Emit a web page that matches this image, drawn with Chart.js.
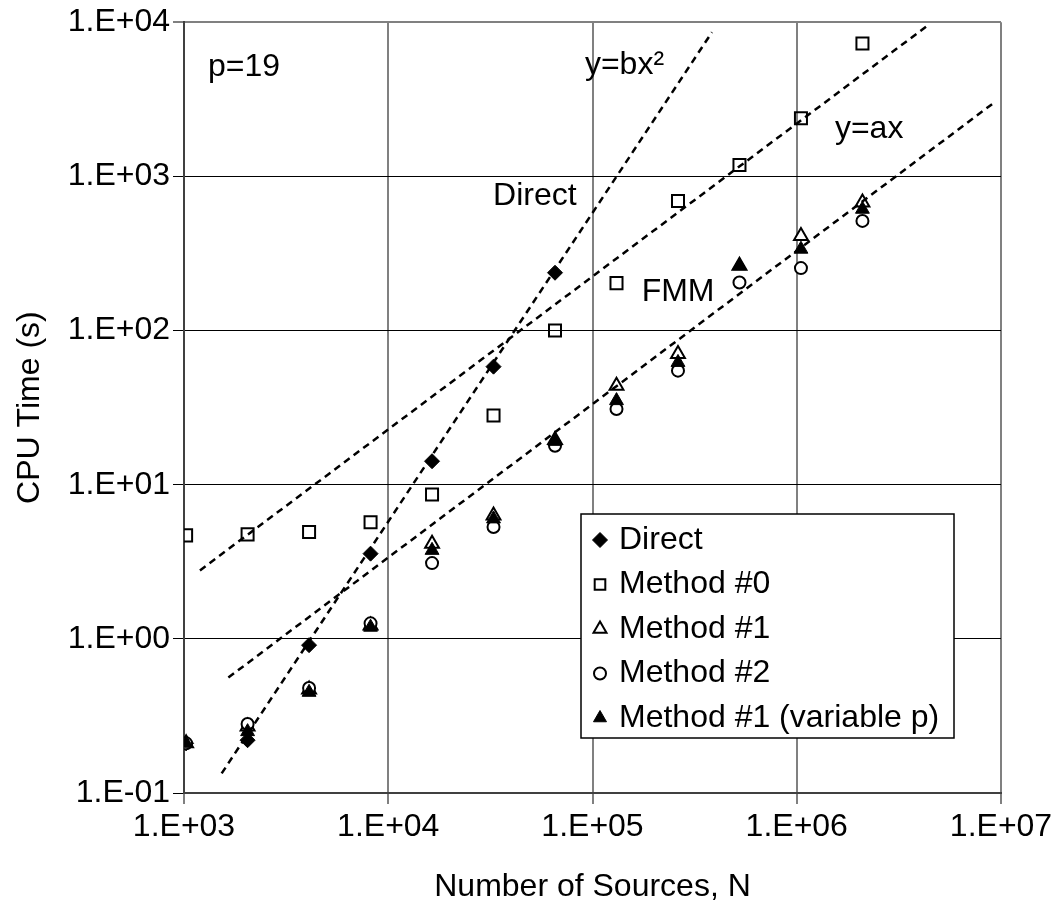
<!DOCTYPE html>
<html>
<head>
<meta charset="utf-8">
<script src="https://cdn.jsdelivr.net/npm/chart.js@4/dist/chart.umd.min.js"></script>
<style>
html,body{margin:0;padding:0;background:#fff;}
#wrap{width:1060px;height:911px;position:relative;}
</style>
</head>
<body>
<div id="wrap"><canvas id="c" width="1060" height="911"></canvas></div>
<script>
// ---------- data ----------
const N = [1024, 2048, 4096, 8192, 16384, 32768, 65536, 131072, 262144, 524288, 1048576, 2097152];
const directTime     = [0.21, 0.22, 0.91, 3.57, 14.2, 58.3, 237];
const method0Time    = [4.69, 4.76, 4.93, 5.71, 8.63, 28.1, 100, 203, 693, 1186, 2379, 7278];
const method1Time    = [0.21, 0.27, 0.47, 1.22, 4.14, 6.32, 19.5, 43.9, 70.4, 263, 411, 676];
const method2Time    = [0.21, 0.28, 0.48, 1.26, 3.10, 5.31, 17.9, 31.0, 54.9, 205, 254, 514];
const method1VarTime = [0.21, 0.25, 0.45, 1.19, 3.75, 6.0, 19.1, 35.1, 62.1, 263, 337, 612];

// fitted reference lines (end points)
const fitDirectX  = [1529, 384600];   const fitDirectY  = [0.134, 8610];
const fitMethod0X = [1197, 4330000];  const fitMethod0Y = [2.78, 9420];
const fitFmmX     = [1649, 9460000];  const fitFmmY     = [0.561, 3076];

// axis ticks
const xTickValues = [1e3, 1e4, 1e5, 1e6, 1e7];
const xTickLabels = ['1.E+03', '1.E+04', '1.E+05', '1.E+06', '1.E+07'];
const yTickValues = [0.1, 1, 10, 100, 1000, 10000];
const yTickLabels = ['1.E-01', '1.E+00', '1.E+01', '1.E+02', '1.E+03', '1.E+04'];

// text notes placed in data coordinates (left edge, baseline)
const noteTexts = ['p=19', 'y=bx\u00B2', 'Direct', 'FMM', 'y=ax'];
const noteX     = [1311, 91800, 32600, 174000, 1538000];
const noteY     = [4467, 4600, 653, 156, 1774];

// ---------- helpers ----------
const FONT_FAMILY = "'Liberation Sans', Arial, Helvetica, sans-serif";
const FONT_SIZE = 32;
const pts = (xs, ys) => ys.map((y, i) => ({x: xs[i], y: y}));

const markerDatasets = [
  {label: 'Direct', data: pts(N, directTime), pointStyle: 'rectRot', pointRadius: 7.5,
   backgroundColor: '#000', borderColor: '#000', borderWidth: 1, order: 5},
  {label: 'Method #0', data: pts(N, method0Time), pointStyle: 'rect', pointRadius: 8.5,
   backgroundColor: 'rgba(255,255,255,0)', borderColor: '#000', borderWidth: 2, order: 4},
  {label: 'Method #1', data: pts(N, method1Time), pointStyle: 'triangle', pointRadius: 8,
   backgroundColor: '#fff', borderColor: '#000', borderWidth: 2, order: 3},
  {label: 'Method #2', data: pts(N, method2Time), pointStyle: 'circle', pointRadius: 6,
   backgroundColor: '#fff', borderColor: '#000', borderWidth: 2, order: 2},
  {label: 'Method #1 (variable p)', data: pts(N, method1VarTime), pointStyle: 'triangle', pointRadius: 8,
   backgroundColor: '#000', borderColor: '#000', borderWidth: 1, order: 1}
];
markerDatasets.forEach(d => { d.showLine = false; d.pointHoverRadius = d.pointRadius; });

const fitLine = (label, xs, ys) => ({
  label: label, data: pts(xs, ys), showLine: true, fill: false,
  borderColor: '#000', borderWidth: 2.5, borderDash: [7, 5],
  pointRadius: 0, pointHoverRadius: 0, order: 0, isFit: true
});

const datasets = markerDatasets.concat([
  fitLine('fitDirect', fitDirectX, fitDirectY),
  fitLine('fitMethod0', fitMethod0X, fitMethod0Y),
  fitLine('fitFmm', fitFmmX, fitFmmY)
]);

// ---------- plugins ----------
const notesPlugin = {
  id: 'notes',
  afterDatasetsDraw(chart) {
    const ctx = chart.ctx, xs = chart.scales.x, ys = chart.scales.y;
    ctx.save();
    ctx.font = FONT_SIZE + 'px ' + FONT_FAMILY;
    ctx.fillStyle = '#000';
    ctx.textAlign = 'left';
    ctx.textBaseline = 'alphabetic';
    noteTexts.forEach((t, i) => {
      ctx.fillText(t, xs.getPixelForValue(noteX[i]), ys.getPixelForValue(noteY[i]));
    });
    ctx.restore();
  }
};

const boxLegendPlugin = {
  id: 'boxLegend',
  afterDraw(chart) {
    const ctx = chart.ctx, area = chart.chartArea;
    const w = 373, h = 224;
    const right = area.right - 47, bottom = area.bottom - 55;
    const left = right - w, top = bottom - h;
    ctx.save();
    ctx.fillStyle = '#fff';
    ctx.fillRect(left, top, w, h);
    ctx.strokeStyle = '#000';
    ctx.lineWidth = 1.5;
    ctx.strokeRect(left, top, w, h);
    ctx.font = FONT_SIZE + 'px ' + FONT_FAMILY;
    ctx.textAlign = 'left';
    ctx.textBaseline = 'middle';
    const sizes = [7.5, 7.5, 7.5, 6, 7.5];
    markerDatasets.forEach((d, i) => {
      const cy = top + 26 + i * 44.5;
      const cx = left + 19;
      ctx.fillStyle = d.backgroundColor;
      ctx.strokeStyle = d.borderColor;
      ctx.lineWidth = d.borderWidth;
      if (Chart.helpers && Chart.helpers.drawPoint) {
        Chart.helpers.drawPoint(ctx, {pointStyle: d.pointStyle, radius: sizes[i], rotation: 0,
          borderWidth: d.borderWidth}, cx, cy);
      }
      ctx.fillStyle = '#000';
      ctx.fillText(d.label, left + 38, cy);
    });
    ctx.restore();
  }
};

const tickFont = {family: FONT_FAMILY, size: FONT_SIZE};

new Chart(document.getElementById('c'), {
  type: 'scatter',
  data: {datasets: datasets},
  options: {
    responsive: false,
    animation: false,
    devicePixelRatio: 1,
    layout: {padding: {top: 21, right: 59, left: 0, bottom: 0}},
    plugins: {legend: {display: false}, tooltip: {enabled: false}},
    scales: {
      x: {
        type: 'logarithmic', position: 'bottom', min: 1e3, max: 1e7,
        afterBuildTicks: s => { s.ticks = xTickValues.map(v => ({value: v})); },
        afterFit: s => { s.height = 118; },
        ticks: {callback: (v, i) => xTickLabels[i], font: tickFont, color: '#000',
                padding: 4, maxRotation: 0, autoSkip: false},
        grid: {color: '#808080', lineWidth: 2, tickLength: 11},
        border: {color: '#404040', width: 2},
        title: {display: true, text: 'Number of Sources, N', font: tickFont, color: '#000',
                padding: {top: 0, bottom: 5}}
      },
      y: {
        type: 'logarithmic', position: 'left', min: 0.1, max: 10000,
        afterBuildTicks: s => { s.ticks = yTickValues.map(v => ({value: v})); },
        afterFit: s => { s.width = 184; },
        ticks: {callback: (v, i) => yTickLabels[i], font: tickFont, color: '#000',
                padding: 3, autoSkip: false},
        grid: {
          color: c => (c.tick && c.tick.value === 10000) ? '#808080' : '#000',
          lineWidth: c => (c.tick && c.tick.value === 10000) ? 2 : 1,
          tickLength: 11
        },
        border: {color: '#404040', width: 2},
        title: {display: true, text: 'CPU Time (s)', font: tickFont, color: '#000',
                padding: {top: 11, bottom: 0}}
      }
    }
  },
  plugins: [notesPlugin, boxLegendPlugin]
});
</script>
</body>
</html>
